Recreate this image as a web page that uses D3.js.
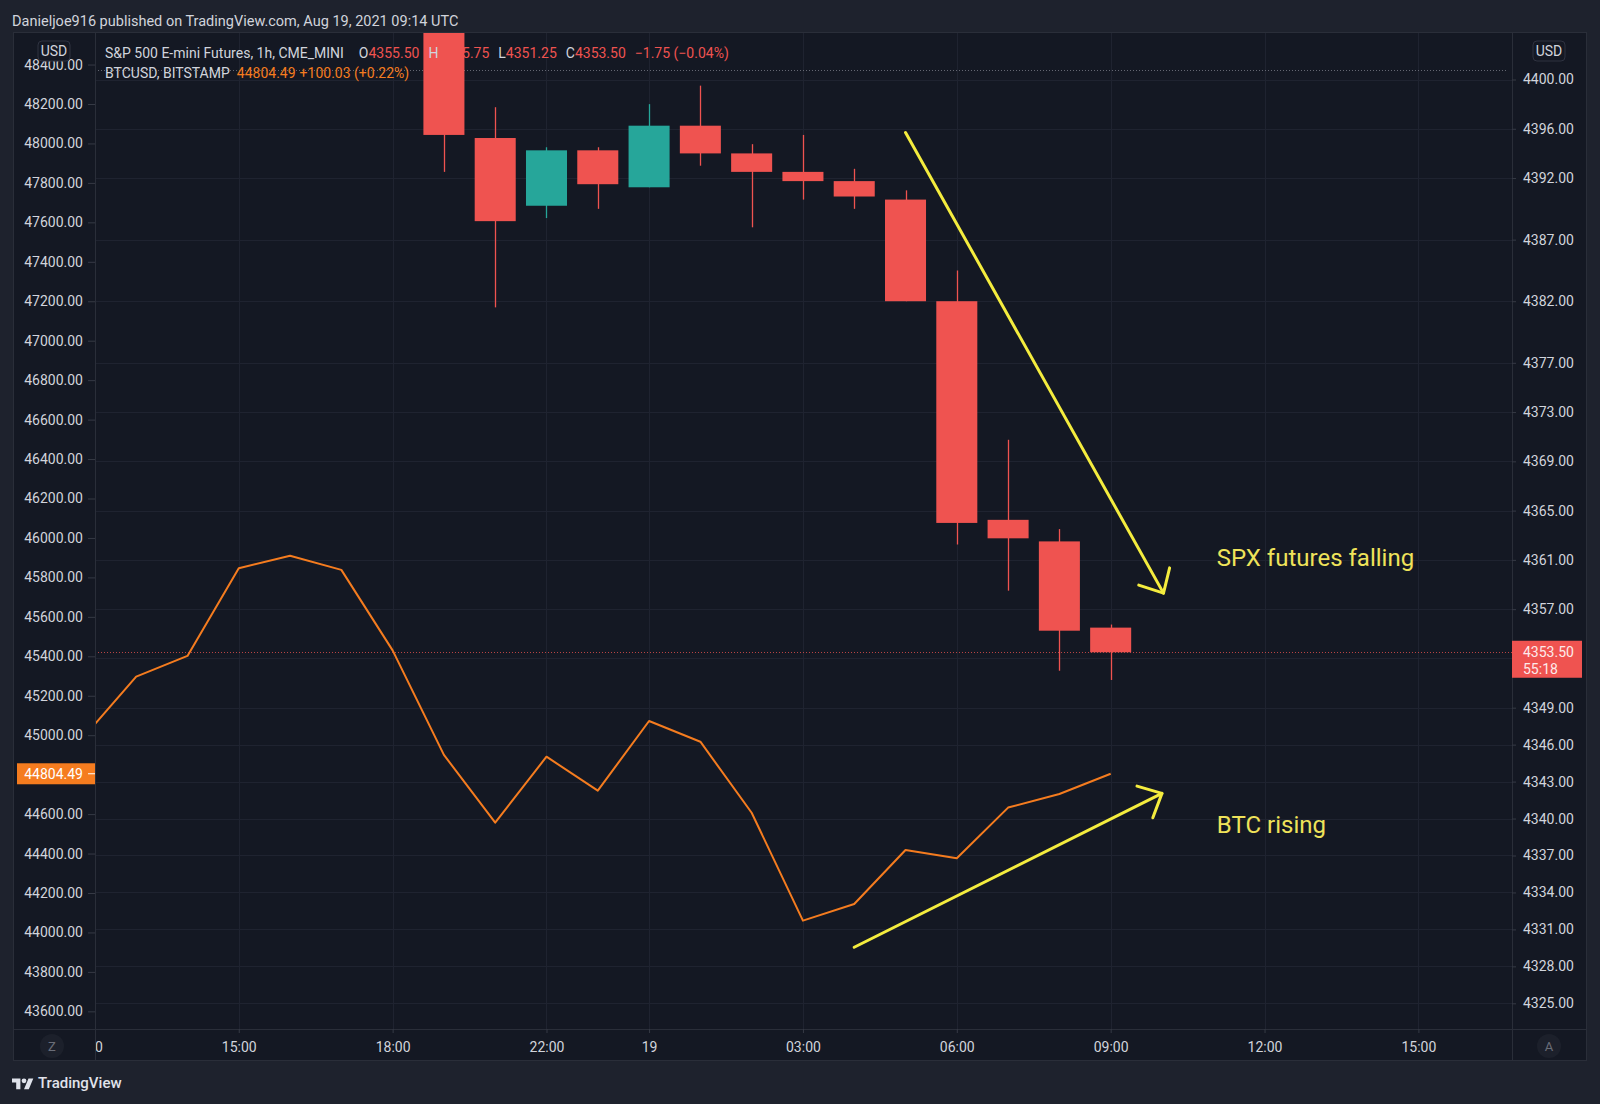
<!DOCTYPE html>
<html>
<head>
<meta charset="utf-8">
<script src="https://cdn.jsdelivr.net/npm/d3@7"></script>
<style>
  html, body { margin: 0; padding: 0; background: #1e222d; }
  svg { display: block; }
  text { font-family: Roboto, "Noto Sans", sans-serif; }
</style>
</head>
<body>
<svg id="chart" width="1600" height="1104"></svg>
<script>
// hourly slots (UTC). 21:00 is the CME daily break, so it has no slot
const slotHours = [12, 13, 14, 15, 16, 17, 18, 19, 20, 22, 23, 0, 1, 2, 3, 4, 5, 6, 7, 8, 9, 10, 11, 12, 13, 14, 15];

// time axis labels
const timeTickSlots  = [0, 3, 6, 9, 11, 14, 17, 20, 23, 26];
const timeTickLabels = ["12:00", "15:00", "18:00", "22:00", "19", "03:00", "06:00", "09:00", "12:00", "15:00"];

// S&P 500 E-mini 1h candles (the part that is inside the view)
const spxSlot  = [7, 8, 9, 10, 11, 12, 13, 14, 15, 16, 17, 18, 19, 20];
const spxOpen  = [4404.75, 4395.25, 4389.75, 4394.25, 4391.25, 4396.25, 4394.0, 4392.5, 4391.75, 4390.25, 4382.0, 4364.25, 4362.5, 4355.5];
const spxHigh  = [4406.0, 4397.75, 4394.5, 4394.5, 4398.0, 4399.5, 4394.75, 4395.5, 4392.75, 4391.0, 4384.5, 4370.75, 4363.5, 4355.75];
const spxLow   = [4392.5, 4381.5, 4388.75, 4389.5, 4391.25, 4393.0, 4388.0, 4390.25, 4389.5, 4382.0, 4362.25, 4358.5, 4352.0, 4351.25];
const spxClose = [4395.5, 4388.5, 4394.25, 4391.5, 4396.25, 4394.0, 4392.5, 4391.75, 4390.5, 4382.0, 4364.0, 4362.75, 4355.25, 4353.5];
const spxPrevClose = 4400.75;

// BTCUSD (Bitstamp) closes on the same slots
const btcSlot  = [0, 1, 2, 3, 4, 5, 6, 7, 8, 9, 10, 11, 12, 13, 14, 15, 16, 17, 18, 19, 20];
const btcClose = [44998, 45297, 45402, 45846, 45910, 45838, 45430, 44900, 44557, 44891, 44719, 45072, 44967, 44607, 44060, 44144, 44418, 44376, 44633, 44702, 44804.49];

// price scale ticks (the ones sitting under the last-value badges have no label)
const spxTicks = [4400, 4396, 4392, 4387, 4382, 4377, 4373, 4369, 4365, 4361, 4357, 4353, 4349, 4346, 4343, 4340, 4337, 4334, 4331, 4328, 4325];
const btcTicks = [48400, 48200, 48000, 47800, 47600, 47400, 47200, 47000, 46800, 46600, 46400, 46200, 46000,
                  45800, 45600, 45400, 45200, 45000, 44800, 44600, 44400, 44200, 44000, 43800, 43600];
const hiddenTickLabels = [4353, 44800];

// hand drawn notes (slot, price)
const noteArrows = [
  { scale: "spx", from: [16, 4395.7], to: [21.03, 4358.3] },
  { scale: "btc", from: [15, 43925], to: [21, 44705] }
];
const noteTexts = [
  { scale: "spx", slot: 22.07, value: 4361.2, text: "SPX futures falling" },
  { scale: "btc", slot: 22.07, value: 44547, text: "BTC rising" }
];

const header = "Danieljoe916 published on TradingView.com, Aug 19, 2021 09:14 UTC";

// ---- layout
const frame = { left: 13, right: 1587, top: 32, bottom: 1061 };
const plot  = { left: 95, right: 1512, top: 32, bottom: 1029 };

const RED = "#ef5350", GREEN = "#26a69a", ORANGE = "#f57c1f", YELLOW = "#f4ec3e";
const TXT = "#d1d4dc", LINE = "#2a2e39", GRID = "#1f2330";

const svg = d3.select("#chart");

const x = d3.scaleLinear().domain([0, 26]).range([84.9, 1418.4]);
const ySpx = d3.scaleLinear().domain([4325, 4400]).range([1003.3, 79.5]);
const yBtc = d3.scaleLinear().domain([43600, 48200]).range([1011.35, 104]);
const barW = (x(1) - x(0)) * 0.8;
const fmt = d3.format(".2f");

// background
svg.append("rect").attr("width", 1600).attr("height", 1104).attr("fill", "#1e222d");
svg.append("rect")
  .attr("x", frame.left).attr("y", frame.top)
  .attr("width", frame.right - frame.left).attr("height", frame.bottom - frame.top)
  .attr("fill", "#141823");

const defs = svg.append("defs");
defs.append("clipPath").attr("id", "plotClip")
  .append("rect").attr("x", plot.left).attr("y", plot.top)
  .attr("width", plot.right - plot.left).attr("height", plot.bottom - plot.top);
defs.append("clipPath").attr("id", "timeClip")
  .append("rect").attr("x", plot.left + 1).attr("y", plot.bottom)
  .attr("width", plot.right - plot.left - 1).attr("height", frame.bottom - plot.bottom);

const pane = svg.append("g").attr("clip-path", "url(#plotClip)");

// grid
pane.append("g").selectAll("line").data(spxTicks).join("line")
  .attr("x1", plot.left).attr("x2", plot.right)
  .attr("y1", d => Math.round(ySpx(d)) + 0.5).attr("y2", d => Math.round(ySpx(d)) + 0.5)
  .attr("stroke", GRID);
pane.append("g").selectAll("line").data(timeTickSlots).join("line")
  .attr("y1", plot.top).attr("y2", plot.bottom)
  .attr("x1", d => Math.round(x(d)) + 0.5).attr("x2", d => Math.round(x(d)) + 0.5)
  .attr("stroke", GRID);

// previous close (grey dotted)
pane.append("line")
  .attr("x1", plot.left).attr("x2", plot.right - 4)
  .attr("y1", Math.round(ySpx(spxPrevClose)) + 0.5).attr("y2", Math.round(ySpx(spxPrevClose)) + 0.5)
  .attr("stroke", "#787b86").attr("stroke-dasharray", "1,2").attr("opacity", 0.8);

// candles
const candles = spxSlot.map((k, i) => ({ k, o: spxOpen[i], h: spxHigh[i], l: spxLow[i], c: spxClose[i] }));
const cg = pane.append("g").selectAll("g").data(candles).join("g")
  .attr("fill", d => d.c >= d.o ? GREEN : RED)
  .attr("stroke", d => d.c >= d.o ? GREEN : RED);
cg.append("line")
  .attr("x1", d => Math.round(x(d.k)) + 0.5).attr("x2", d => Math.round(x(d.k)) + 0.5)
  .attr("y1", d => ySpx(d.h)).attr("y2", d => ySpx(d.l))
  .attr("stroke-width", 1.3);
cg.append("rect")
  .attr("x", d => x(d.k) - barW / 2).attr("width", barW)
  .attr("y", d => ySpx(Math.max(d.o, d.c)))
  .attr("height", d => Math.max(1, Math.abs(ySpx(d.o) - ySpx(d.c))))
  .attr("stroke", "none");

// BTC line
const btc = btcSlot.map((k, i) => ({ k, v: btcClose[i] }));
pane.append("path").datum(btc)
  .attr("d", d3.line().x(d => x(d.k)).y(d => yBtc(d.v)))
  .attr("fill", "none").attr("stroke", ORANGE).attr("stroke-width", 2)
  .attr("stroke-linejoin", "round");

// last price line
const lastSpx = spxClose[spxClose.length - 1];
pane.append("line")
  .attr("x1", plot.left).attr("x2", plot.right)
  .attr("y1", Math.round(ySpx(lastSpx)) + 0.5).attr("y2", Math.round(ySpx(lastSpx)) + 0.5)
  .attr("stroke", RED).attr("stroke-dasharray", "1,2").attr("opacity", 0.75);

// notes
const scaleOf = s => s === "spx" ? ySpx : yBtc;
noteArrows.forEach(a => {
  const ys = scaleOf(a.scale);
  const x1 = x(a.from[0]), y1 = ys(a.from[1]), x2 = x(a.to[0]), y2 = ys(a.to[1]);
  const back = Math.atan2(y1 - y2, x1 - x2), len = 26, spread = Math.PI / 4.2;
  const g = pane.append("g").attr("stroke", YELLOW).attr("stroke-width", 3)
    .attr("fill", "none").attr("stroke-linecap", "round").attr("stroke-linejoin", "round");
  g.append("line").attr("x1", x1).attr("y1", y1).attr("x2", x2).attr("y2", y2);
  g.append("path").attr("d", d3.line()([
    [x2 + len * Math.cos(back - spread), y2 + len * Math.sin(back - spread)],
    [x2, y2],
    [x2 + len * Math.cos(back + spread), y2 + len * Math.sin(back + spread)]
  ]));
});
pane.append("g").selectAll("text").data(noteTexts).join("text")
  .attr("x", d => x(d.slot)).attr("y", d => scaleOf(d.scale)(d.value))
  .attr("dy", "0.35em").attr("font-size", 24).attr("fill", "#efe35a")
  .text(d => d.text);

// legend
const lg = svg.append("g").attr("font-size", 14);
const l1 = lg.append("text").attr("x", 105).attr("y", 53).attr("dy", "0.35em").attr("fill", TXT);
l1.append("tspan").text("S&P 500 E-mini Futures, 1h, CME_MINI");
const last = candles[candles.length - 1];
[["O", last.o], ["H", last.h], ["L", last.l], ["C", last.c]].forEach(([k, v], i) => {
  l1.append("tspan").attr("dx", i === 0 ? 15 : 9).attr("fill", TXT).text(k);
  l1.append("tspan").attr("fill", RED).text(fmt(v));
});
const prevC = spxClose[spxClose.length - 2];
const chg = last.c - prevC;
l1.append("tspan").attr("dx", 9).attr("fill", RED)
  .text(`${fmt(chg).replace("-", "−")} (${fmt(chg / prevC * 100).replace("-", "−")}%)`);
const l2 = lg.append("text").attr("x", 105).attr("y", 73.5).attr("dy", "0.35em").attr("fill", TXT);
l2.append("tspan").text("BTCUSD, BITSTAMP");
l2.append("tspan").attr("dx", 7).attr("fill", ORANGE).text(fmt(btcClose[btcClose.length - 1]));
l2.append("tspan").attr("dx", 4).attr("fill", ORANGE).text("+100.03 (+0.22%)");

// frame lines
const fl = svg.append("g").attr("stroke", LINE).attr("fill", "none");
fl.append("rect").attr("x", frame.left + 0.5).attr("y", frame.top + 0.5)
  .attr("width", frame.right - frame.left - 1).attr("height", frame.bottom - frame.top - 1);
fl.append("line").attr("x1", plot.left + 0.5).attr("x2", plot.left + 0.5).attr("y1", frame.top).attr("y2", frame.bottom);
fl.append("line").attr("x1", plot.right + 0.5).attr("x2", plot.right + 0.5).attr("y1", frame.top).attr("y2", frame.bottom);
fl.append("line").attr("x1", frame.left).attr("x2", frame.right).attr("y1", plot.bottom + 0.5).attr("y2", plot.bottom + 0.5);

// axes
const priceLabel = d => hiddenTickLabels.includes(d) ? "" : fmt(d);
function styleAxis(g) {
  g.select(".domain").remove();
  g.selectAll(".tick line").attr("stroke", "#363a45");
  g.selectAll(".tick text").attr("fill", TXT).attr("font-size", 14).attr("font-family", "Roboto, sans-serif");
}
svg.append("g").attr("transform", `translate(${plot.left},0)`)
  .call(d3.axisLeft(yBtc).tickValues(btcTicks).tickFormat(priceLabel).tickSize(7).tickPadding(5))
  .call(styleAxis);
svg.append("g").attr("transform", `translate(${plot.right},0)`)
  .call(d3.axisRight(ySpx).tickValues(spxTicks).tickFormat(priceLabel).tickSize(4).tickPadding(7))
  .call(styleAxis);
svg.append("g").attr("clip-path", "url(#timeClip)")
  .append("g").attr("transform", `translate(0,${plot.bottom})`)
  .call(d3.axisBottom(x).tickValues(timeTickSlots).tickFormat((d, i) => timeTickLabels[i]).tickSize(4).tickPadding(9))
  .call(styleAxis);

// currency badges
[54, 1549].forEach(cx => {
  svg.append("rect").attr("x", cx - 16).attr("y", 41).attr("width", 32).attr("height", 20).attr("rx", 4)
    .attr("fill", "#141823").attr("stroke", "#2f3341");
  svg.append("text").attr("x", cx).attr("y", 51).attr("dy", "0.35em").attr("text-anchor", "middle")
    .attr("font-size", 14).attr("fill", TXT).text("USD");
});

// last value labels
const ySpxLast = ySpx(lastSpx);
svg.append("rect").attr("x", plot.right).attr("y", ySpxLast - 11.5).attr("width", 70).attr("height", 37)
  .attr("fill", RED);
svg.append("text").attr("x", 1523).attr("y", ySpxLast).attr("dy", "0.35em").attr("font-size", 14)
  .attr("fill", "#fdeaea").text(fmt(lastSpx));
svg.append("text").attr("x", 1523).attr("y", ySpxLast + 17).attr("dy", "0.35em").attr("font-size", 14)
  .attr("fill", "#fdeaea").text("55:18");

const lastBtc = btcClose[btcClose.length - 1];
const yBtcLast = yBtc(lastBtc);
svg.append("rect").attr("x", 17).attr("y", yBtcLast - 10.5).attr("width", plot.left - 17).attr("height", 21)
  .attr("fill", ORANGE);
svg.append("text").attr("x", 83).attr("y", yBtcLast).attr("dy", "0.35em").attr("text-anchor", "end")
  .attr("font-size", 14).attr("fill", "#fff").text(fmt(lastBtc));
svg.append("line").attr("x1", 88).attr("x2", plot.left).attr("y1", yBtcLast).attr("y2", yBtcLast)
  .attr("stroke", "#fff");

// Z / A buttons
[[52, "Z"], [1549, "A"]].forEach(([cx, t]) => {
  svg.append("circle").attr("cx", cx).attr("cy", 1046).attr("r", 12).attr("fill", "#1c202b");
  svg.append("text").attr("x", cx).attr("y", 1046).attr("dy", "0.35em").attr("text-anchor", "middle")
    .attr("font-size", 13).attr("fill", "#6a6d78").text(t);
});

// header + footer
svg.append("text").attr("x", 12).attr("y", 21).attr("dy", "0.35em")
  .attr("font-size", 14.5).attr("fill", TXT).text(header);

const logo = svg.append("g").attr("transform", "translate(12,1076) scale(0.6)").attr("fill", "#e0e3eb");
logo.append("path").attr("d", "M14 22H7V11H0V4h14v18zM28 22h-8l7.5-18h8L28 22z");
logo.append("circle").attr("cx", 20).attr("cy", 8).attr("r", 4);
svg.append("text").attr("x", 38).attr("y", 1083).attr("dy", "0.35em")
  .attr("font-size", 15).attr("font-weight", 500).attr("fill", "#e0e3eb").text("TradingView");
</script>
</body>
</html>
